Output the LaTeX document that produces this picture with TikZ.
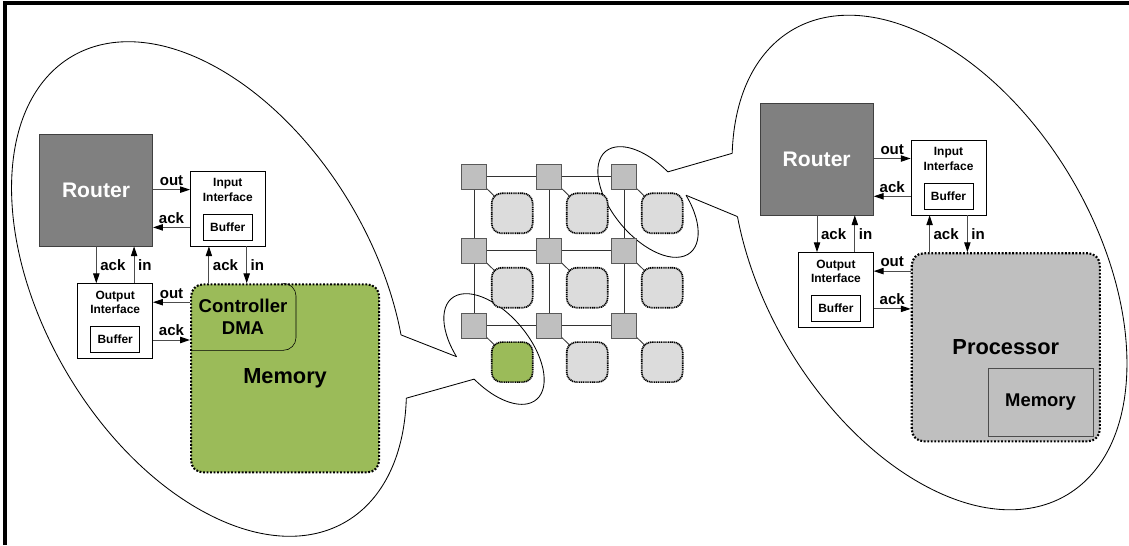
\documentclass[tikz,border=0pt]{standalone}
\usepackage{fontspec}
\setmainfont{Liberation Sans}
\usetikzlibrary{arrows.meta}
\usetikzlibrary{backgrounds}
\usetikzlibrary{calc}
\usetikzlibrary{positioning}

\definecolor{rtrgray}{HTML}{808080}
\definecolor{memgreen}{HTML}{9BBB59}
\definecolor{cpugray}{HTML}{BFBFBF}
\definecolor{tilegray}{HTML}{DCDCDC}

\begin{document}
\begin{tikzpicture}[x=0.025cm, y=-0.025cm, thin,
	router/.style={rectangle, draw=black!75, fill=rtrgray, text=white, font=\fontsize{15}{18}\selectfont\bfseries, minimum width=2.835cm, minimum height=2.8cm},
	ifbox/.style={rectangle, draw, fill=white, minimum width=1.875cm, minimum height=1.875cm},
	iftext/.style={align=center, inner sep=0pt, font=\fontsize{8.5}{10.4}\selectfont\bfseries},
	bufbox/.style={rectangle, draw, fill=white, inner sep=0pt, minimum width=1.225cm, minimum height=0.65cm, font=\fontsize{8.5}{10}\selectfont\bfseries},
	pe/.style={rectangle, rounded corners=8.5pt, draw, line width=1.5pt, dash pattern=on 1.3pt off 1.2pt, minimum width=4.7cm, minimum height=4.7cm, font=\fontsize{15.5}{18}\selectfont\bfseries},
	ctltext/.style={align=center, inner sep=0pt, font=\fontsize{13.2}{16.3}\selectfont\bfseries},
	cpumem/.style={rectangle, draw=black!70, fill=cpugray, minimum width=2.625cm, minimum height=1.7cm, font=\fontsize{13.1}{16}\selectfont\bfseries},
	sig/.style={draw=black!70, line width=0.7pt, -{Triangle[length=7pt, width=4.5pt, color=black]}},
	lbl/.style={font=\fontsize{10.7}{12}\selectfont\bfseries, inner sep=2.5pt},
	nrouter/.style={rectangle, draw=black!65, fill=cpugray, minimum size=0.625cm},
	ntile/.style={rectangle, rounded corners=7pt, draw, line width=1.2pt, dash pattern=on 0.8pt off 0.5pt, minimum width=1.025cm, minimum height=1cm},
	meshline/.style={draw=black!80, line width=0.6pt},
	bubble/.style={draw, line width=0.6pt},
]
\useasboundingbox (0,0) rectangle (1129,545);
\draw [line width=2.3pt] (5,545) -- (5,3) -- (1129,3);
%
% callouts
\begin{scope}[shift={(209,289)}, rotate=-59.5]
	\coordinate (bL1) at (-59.5:270 and 165);
	\coordinate (bL2) at (-44:270 and 165);
	\draw [bubble] (bL2) arc [start angle=-44, end angle=300.5, x radius=270, y radius=165];
\end{scope}
\begin{scope}[shift={(494,349)}, rotate=-50]
	\coordinate (sL1) at (106:66 and 35);
	\coordinate (sL2) at (81:66 and 35);
	\draw [bubble] (sL1) arc [start angle=106, end angle=441, x radius=66, y radius=35];
\end{scope}
\begin{scope}[shift={(648,202)}, rotate=-50]
	\coordinate (sR1) at (-99:66 and 35);
	\coordinate (sR2) at (-73:66 and 35);
	\draw [bubble] (sR2) arc [start angle=-73, end angle=261, x radius=66, y radius=35];
\end{scope}
\begin{scope}[shift={(929.5,262.5)}, rotate=-59.5]
	\coordinate (bR1) at (136:270 and 165);
	\coordinate (bR2) at (120.5:270 and 165);
	\draw [bubble] (bR1) arc [start angle=136, end angle=480.5, x radius=270, y radius=165];
\end{scope}
\draw [bubble] (bL1) -- (sL1);
\draw [bubble] (bL2) -- (sL2);
\draw [bubble] (sR1) -- (bR1);
\draw [bubble] (sR2) -- (bR2);
%
% mesh
\foreach \i in {0,1,2}
	\foreach \j in {0,1,2} {
		\def\tilecol{tilegray}
		\ifnum\i=0 \ifnum\j=2 \def\tilecol{memgreen}\fi\fi
		\node [nrouter] (r\i\j) at (474.2+75*\i, 176.5+74.4*\j) {};
		\node [ntile, fill=\tilecol] (t\i\j) at (512.2+75*\i, 213.3+74.4*\j) {};
	}
\begin{scope}[on background layer]
	\foreach \k in {0,1,2} {
		\draw [meshline] (r0\k) -- (r2\k);
		\draw [meshline] (r\k0) -- (r\k2);
	}
	\foreach \i in {0,1,2}
		\foreach \j in {0,1,2}
			\draw [meshline] (r\i\j.center) -- (t\i\j.center);
\end{scope}
%
% memory tile
\node [router] (rtrL) at (96,190) {Router};
\node [ifbox, above right=0cm and 0.925cm of rtrL.south east] (inL) {};
\node [iftext, below=0.19cm of inL.north] (inLt) {Input\\Interface};
\node [bufbox, above=0.15cm of inL.south] (bufIL) {Buffer};
\node [ifbox, below left=0.925cm and 0cm of rtrL.south east] (outL) {};
\node [iftext, below=0.18cm of outL.north] (outLt) {Output\\Interface};
\node [bufbox, above=0.15cm of outL.south] (bufOL) {Buffer};
\node [pe, fill=memgreen, below right=0.925cm and 0.925cm of rtrL.south east] (memL) {Memory};
\coordinate (ctlC) at ($(memL.north west)+(106,67)$);
\draw [rounded corners=9pt] (memL.north west |- ctlC) -- (ctlC) -- (ctlC |- memL.north) -- ++(-13,0);
\node [ctltext] (ctlL) at ($(memL.north west)!0.5!(ctlC)$) {Controller\\DMA};
%
\coordinate (iLo) at ($(inL.north west)!0.25!(inL.south west)$);
\coordinate (iLa) at ($(inL.north west)!0.75!(inL.south west)$);
\coordinate (iLs) at ($(inL.south west)!0.25!(inL.south east)$);
\coordinate (iLi) at ($(inL.south west)!0.75!(inL.south east)$);
\coordinate (oLa) at ($(outL.north west)!0.25!(outL.north east)$);
\coordinate (oLi) at ($(outL.north west)!0.75!(outL.north east)$);
\coordinate (oLo) at ($(outL.north east)!0.25!(outL.south east)$);
\coordinate (oLk) at ($(outL.north east)!0.75!(outL.south east)$);
\draw [sig] (rtrL.east |- iLo) -- node [lbl, above] {out} (iLo);
\draw [sig] (iLa) -- node [lbl, above] {ack} (rtrL.east |- iLa);
\draw [sig] (oLa |- rtrL.south) -- node [lbl, right] {ack} (oLa);
\draw [sig] (oLi) -- node [lbl, right] {in} (oLi |- rtrL.south);
\draw [sig] (iLs |- memL.north) -- node [lbl, right] {ack} (iLs);
\draw [sig] (iLi) -- node [lbl, right] {in} (iLi |- memL.north);
\draw [sig] (memL.west |- oLo) -- node [lbl, above] {out} (oLo);
\draw [sig] (oLk) -- node [lbl, above] {ack} (memL.west |- oLk);
%
% processor tile
\node [router] (rtrR) at (816.7,158.9) {Router};
\node [ifbox, above right=0cm and 0.925cm of rtrR.south east] (inR) {};
\node [iftext, below=0.19cm of inR.north] (inRt) {Input\\Interface};
\node [bufbox, above=0.15cm of inR.south] (bufIR) {Buffer};
\node [ifbox, below left=0.925cm and 0cm of rtrR.south east] (outR) {};
\node [iftext, below=0.18cm of outR.north] (outRt) {Output\\Interface};
\node [bufbox, above=0.15cm of outR.south] (bufOR) {Buffer};
\node [pe, fill=cpugray, below right=0.925cm and 0.925cm of rtrR.south east] (cpuR) {Processor};
\node [cpumem, above left=0.15cm and 0.19cm of cpuR.south east] (memR) {Memory};
%
\coordinate (iRo) at ($(inR.north west)!0.25!(inR.south west)$);
\coordinate (iRa) at ($(inR.north west)!0.75!(inR.south west)$);
\coordinate (iRs) at ($(inR.south west)!0.25!(inR.south east)$);
\coordinate (iRi) at ($(inR.south west)!0.75!(inR.south east)$);
\coordinate (oRa) at ($(outR.north west)!0.25!(outR.north east)$);
\coordinate (oRi) at ($(outR.north west)!0.75!(outR.north east)$);
\coordinate (oRo) at ($(outR.north east)!0.25!(outR.south east)$);
\coordinate (oRk) at ($(outR.north east)!0.75!(outR.south east)$);
\draw [sig] (rtrR.east |- iRo) -- node [lbl, above] {out} (iRo);
\draw [sig] (iRa) -- node [lbl, above] {ack} (rtrR.east |- iRa);
\draw [sig] (oRa |- rtrR.south) -- node [lbl, right] {ack} (oRa);
\draw [sig] (oRi) -- node [lbl, right] {in} (oRi |- rtrR.south);
\draw [sig] (iRs |- cpuR.north) -- node [lbl, right] {ack} (iRs);
\draw [sig] (iRi) -- node [lbl, right] {in} (iRi |- cpuR.north);
\draw [sig] (cpuR.west |- oRo) -- node [lbl, above] {out} (oRo);
\draw [sig] (oRk) -- node [lbl, above] {ack} (cpuR.west |- oRk);
\end{tikzpicture}
\end{document}
